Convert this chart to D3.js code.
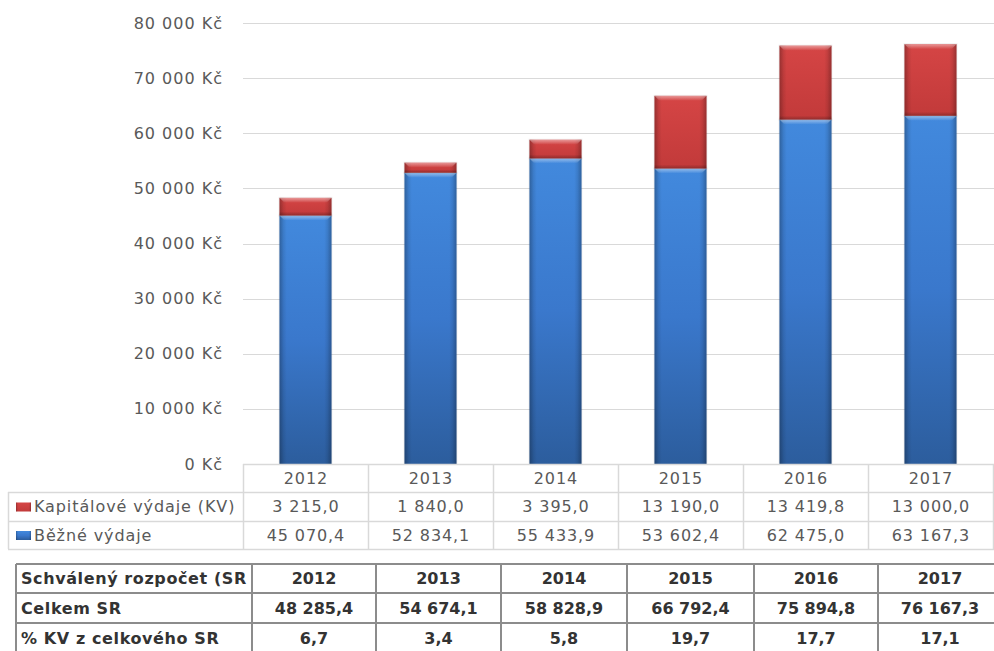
<!DOCTYPE html>
<html><head><meta charset="utf-8">
<script src="https://cdn.jsdelivr.net/npm/d3@7"></script>
<style>body{margin:0;background:#fff;}svg{display:block;}</style>
</head><body>
<svg id="c" width="994" height="651"></svg>
<script>
const years = ["2012","2013","2014","2015","2016","2017"];
const capital = [3215.0, 1840.0, 3395.0, 13190.0, 13419.8, 13000.0];
const current = [45070.4, 52834.1, 55433.9, 53602.4, 62475.0, 63167.3];
const capitalLabels = ["3 215,0","1 840,0","3 395,0","13 190,0","13 419,8","13 000,0"];
const currentLabels = ["45 070,4","52 834,1","55 433,9","53 602,4","62 475,0","63 167,3"];
const yTicks = [0,10000,20000,30000,40000,50000,60000,70000,80000];
const seriesNames = ["Kapitálové výdaje (KV)","Běžné výdaje"];
const table2Header = "Schválený rozpočet (SR";
const table2RowNames = ["Celkem SR","% KV z celkového SR"];
const totalLabels = ["48 285,4","54 674,1","58 828,9","66 792,4","75 894,8","76 167,3"];
const pctLabels = ["6,7","3,4","5,8","19,7","17,7","17,1"];

const svg = d3.select("#c");
const defs = svg.append("defs");
const FONT = "DejaVu Sans, sans-serif";

const x = d3.scaleBand().domain(years).range([243, 993]).padding(0);
const y = d3.scaleLinear().domain([0, 80000]).range([464, 23]);
const barW = x.bandwidth() * 0.416;

function vgrad(id, stops){
  const g = defs.append("linearGradient").attr("id", id).attr("x1",0).attr("y1",0).attr("x2",0).attr("y2",1);
  stops.forEach(s => g.append("stop").attr("offset", s[0]).attr("stop-color", s[1]).attr("stop-opacity", s[2]==null?1:s[2]));
}
function hgrad(id, stops){
  const g = defs.append("linearGradient").attr("id", id).attr("x1",0).attr("y1",0).attr("x2",1).attr("y2",0);
  stops.forEach(s => g.append("stop").attr("offset", s[0]).attr("stop-color", s[1]).attr("stop-opacity", s[2]==null?1:s[2]));
}
vgrad("blueG", [[0,"#4289dd"],[0.5,"#3a78cc"],[1,"#2c5d9d"]]);
vgrad("redG", [[0,"#d54545"],[1,"#c23a3a"]]);
hgrad("edgeG", [[0,"#000",0.28],[0.08,"#000",0.08],[0.14,"#000",0],[0.86,"#000",0],[0.92,"#000",0.08],[1,"#000",0.28]]);
vgrad("topG", [[0,"#fff",0.45],[1,"#fff",0]]);
vgrad("botG", [[0,"#000",0],[1,"#000",0.25]]);

// gridlines
svg.append("g").selectAll("line").data(yTicks).join("line")
  .attr("x1", 243).attr("x2", 994)
  .attr("y1", d => Math.round(y(d)) + 0.5).attr("y2", d => Math.round(y(d)) + 0.5)
  .attr("stroke", "#d9d9d9").attr("stroke-width", 1.2);

// y axis labels
const fmt = v => d3.format(",")(v).replace(/,/g, " ") + " Kč";
svg.append("g").selectAll("text").data(yTicks).join("text")
  .attr("x", 223).attr("y", d => y(d)).attr("dy", "0.35em")
  .attr("text-anchor", "end").attr("font-family", FONT).attr("font-size", 16)
  .attr("letter-spacing", 1)
  .attr("fill", "#595959").text(fmt);

const rows = years.map((yr, i) => ({year: yr, current: current[i], capital: capital[i]}));
const stack = d3.stack().keys(["current","capital"])(rows);
const fills = {current: "url(#blueG)", capital: "url(#redG)"};

const gBars = svg.append("g");
stack.forEach(layer => {
  const key = layer.key;
  layer.forEach(seg => {
    const x0 = x(seg.data.year) + (x.bandwidth() - barW) / 2;
    const y0 = y(seg[1]), y1 = y(seg[0]);
    const h = y1 - y0;
    const g = gBars.append("g");
    g.append("rect").attr("x", x0 - 1).attr("y", y0 - 1).attr("width", barW + 2).attr("height", h + 2)
      .attr("fill", "#000").attr("opacity", 0.06);
    g.append("rect").attr("x", x0).attr("y", y0).attr("width", barW).attr("height", h).attr("fill", fills[key]);
    g.append("rect").attr("x", x0).attr("y", y0).attr("width", barW).attr("height", h).attr("fill", "url(#edgeG)");
    const tb = Math.min(5, h / 2);
    g.append("path")
      .attr("d", `M${x0},${y0}H${x0 + barW}L${x0 + barW - tb},${y0 + tb}H${x0 + tb}Z`)
      .attr("fill", "url(#topG)");
    if (key === "capital") {
      g.append("rect").attr("x", x0).attr("y", y1 - Math.min(4, h/3)).attr("width", barW).attr("height", Math.min(4, h/3))
        .attr("fill", "url(#botG)");
    }
  });
});

// data table 1
const t1 = svg.append("g");
const gridC = "#d9d9d9";
const rowY = [464, 492, 521, 549];
const colX = years.map(yr => x(yr)).concat([993]);
t1.append("line").attr("x1", 243).attr("x2", 994).attr("y1", rowY[0]+0.5).attr("y2", rowY[0]+0.5).attr("stroke", gridC).attr("stroke-width", 1.5);
[rowY[1], rowY[2], rowY[3]].forEach(yy =>
  t1.append("line").attr("x1", 8).attr("x2", 994).attr("y1", yy+0.5).attr("y2", yy+0.5).attr("stroke", gridC).attr("stroke-width", 1.5));
colX.forEach(xx => t1.append("line").attr("x1", xx+0.5).attr("x2", xx+0.5).attr("y1", rowY[0]).attr("y2", rowY[3]).attr("stroke", gridC).attr("stroke-width", 1.5));
t1.append("line").attr("x1", 8.5).attr("x2", 8.5).attr("y1", rowY[1]).attr("y2", rowY[3]).attr("stroke", gridC).attr("stroke-width", 1.5);

const LS1 = 0.9;
const t1text = (sel) => sel.attr("font-family", FONT).attr("font-size", 16).attr("fill", "#595959").attr("letter-spacing", LS1);
const cx1 = yr => x(yr) + x.bandwidth()/2 + LS1/2;
t1.append("g").selectAll("text").data(years).join("text")
  .attr("x", d => cx1(d)).attr("y", (rowY[0]+rowY[1])/2).attr("dy","0.35em")
  .attr("text-anchor","middle").call(t1text).text(d => d);
t1.append("g").selectAll("text").data(capitalLabels).join("text")
  .attr("x", (d,i) => cx1(years[i])).attr("y", (rowY[1]+rowY[2])/2).attr("dy","0.35em")
  .attr("text-anchor","middle").call(t1text).text(d => d);
t1.append("g").selectAll("text").data(currentLabels).join("text")
  .attr("x", (d,i) => cx1(years[i])).attr("y", (rowY[2]+rowY[3])/2).attr("dy","0.35em")
  .attr("text-anchor","middle").call(t1text).text(d => d);
const keyFill = ["url(#redG)", "url(#blueG)"];
seriesNames.forEach((nm, i) => {
  const cy = (rowY[i+1] + rowY[i+2]) / 2;
  t1.append("rect").attr("x", 16).attr("y", cy - 4).attr("width", 15).attr("height", 9).attr("fill", keyFill[i]);
  t1.append("rect").attr("x", 16).attr("y", cy - 4).attr("width", 15).attr("height", 9).attr("fill", "url(#edgeG)");
  t1.append("text").attr("x", 34).attr("y", cy).attr("dy","0.35em").call(t1text).text(nm);
});

// table 2
const t2 = svg.append("g");
const c2 = [16, 252, 376, 501, 627, 754, 878, 1002];
const r2 = [564, 593, 623, 653];
const bc = "#8c8c8c";
r2.forEach(yy => t2.append("line").attr("x1", c2[0]).attr("x2", 994).attr("y1", yy).attr("y2", yy).attr("stroke", bc).attr("stroke-width", 2));
c2.forEach(xx => t2.append("line").attr("x1", xx).attr("x2", xx).attr("y1", r2[0]).attr("y2", r2[3]).attr("stroke", bc).attr("stroke-width", 2));
defs.append("clipPath").attr("id","clipHead").append("rect").attr("x", c2[0]).attr("y", r2[0]).attr("width", c2[1]-c2[0]-1).attr("height", r2[1]-r2[0]);
const t2text = (sel, ls) => sel.attr("font-family", FONT).attr("font-size", 16).attr("font-weight", "bold")
  .attr("letter-spacing", ls).attr("fill", "#333333");
t2.append("text").attr("x", 21).attr("y", (r2[0]+r2[1])/2).attr("dy","0.35em").attr("clip-path","url(#clipHead)").call(t2text, 0.6).text(table2Header);
table2RowNames.forEach((nm, i) => t2.append("text").attr("x", 21).attr("y", (r2[i+1]+r2[i+2])/2).attr("dy","0.35em").call(t2text, 0.6).text(nm));
const cx2 = i => (c2[i+1] + c2[i+2]) / 2;
t2.append("g").selectAll("text").data(years).join("text").attr("x", (d,i) => cx2(i)).attr("y", (r2[0]+r2[1])/2).attr("dy","0.35em").attr("text-anchor","middle").call(t2text, 0).text(d => d);
t2.append("g").selectAll("text").data(totalLabels).join("text").attr("x", (d,i) => cx2(i)).attr("y", (r2[1]+r2[2])/2).attr("dy","0.35em").attr("text-anchor","middle").call(t2text, 0).text(d => d);
t2.append("g").selectAll("text").data(pctLabels).join("text").attr("x", (d,i) => cx2(i)).attr("y", (r2[2]+r2[3])/2).attr("dy","0.35em").attr("text-anchor","middle").call(t2text, 0).text(d => d);
</script>
</body></html>
